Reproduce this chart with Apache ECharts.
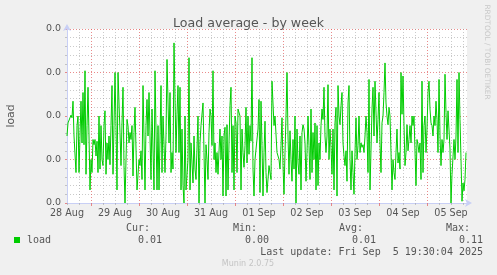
<!DOCTYPE html>
<html>
<head>
<meta charset="utf-8">
<script src="https://cdn.jsdelivr.net/npm/echarts@6/dist/echarts.min.js"></script>
<style>
html,body{margin:0;padding:0;background:#F0F0F0;}
#chart{width:497px;height:275px;}
</style>
</head>
<body>
<div id="chart"></div>
<script>
// ---- data (hours since 28 Aug 12:00, load) ----
const chartTitle = 'Load average - by week';
const yAxisName = 'load';
const dayLabels = ['28 Aug','29 Aug','30 Aug','31 Aug','01 Sep','02 Sep','03 Sep','04 Sep','05 Sep'];
const hoursSpan = 200;
const yMax = 0.02;
const yStep = 0.005;
const legendHeaders = ['Cur:','Min:','Avg:','Max:'];
const legendValues = ['0.01','0.00','0.01','0.11'];
const lastUpdate = 'Last update: Fri Sep  5 19:30:04 2025';
const footer = 'Munin 2.0.75';
const sideText = 'RRDTOOL / TOBI OETIKER';

const loadByHour = [
[0,.0077],[.5,.0092],[1,.009],[2,.0101],[2.5,.0098],[3,.0117],[3.5,.0077],[4.5,.0035],[5,.0089],[5.5,.01],[6,.0035],[6.5,.0077],[7,.0117],[7.5,.0069],[8,.0127],[8.5,.0067],[9,.0152],[9.5,.0033],[10,.0089],[10.5,.0133],[11,.0077],[11.5,.0015],[12,.005],[12.5,.0035],[13,.0073],[13.5,.0067],[14,.0073],[14.5,.0054],[15,.0071],[15.5,.0035],[16,.01],[16.5,.0039],[17,.0089],[17.5,.005],[18,.0043],[18.5,.0089],[19,.0106],[19.5,.0033],[20,.0069],[20.5,.005],[21,.0077],[21.5,.0044],[22,.0089],[22.5,.0135],[23,.0033],[23.5,.0089],[24,.015],[24.5,.0089],[25,.0015],[25.5,.015],[26,.0152],[26.5,.0081],[27,.0043],[27.5,.0092],[28,.0133],[28.5,.0043],[29,0],[29.5,.005],[30,.0096],[30.5,.0089],[31,.0069],[31.5,.0081],[32,.0073],[32.5,.0089],[33,.0031],[33.5,.0081],[34,.011],
[35,.0015],[36,.005],[36.5,.0043],[37,.006],[37.5,.0027],[38,.0135],[39,.0015],[39.5,.0089],[40,.0119],[40.5,.0077],[41,.0127],[42,.0027],[42.5,.0108],[43.5,.0015],[44,.0152],[45,.0015],[45.5,.0089],[46,.0015],[47,.0135],[47.5,.0035],[48,.01],[49,.0035],[49.5,.0077],[50,.0165],[51,.0069],[51.5,.0127],[52,.0035],[52.5,.0058],[53,.0039],[53.5,.0184],[54.5,.0058],[55,.0102],[55.5,.0135],[56,.0058],[56.5,.0133],[57,.0015],[57.5,.0085],[58,.002],[58.5,0],[59,.01],[59.5,.0015],[60.5,.005],[61,.0167],[61.5,.0015],[62,.0069],[63,.0023],[63.5,.0077],[64,.0039],[64.5,.0027],[65.5,.01],[66,0],[66.5,.0069],[67,.0089],[68,.0115],[68.5,.0058],[69,0],
[69.5,.0067],[70,.005],[70.5,.0027],[71,.0081],[71.5,.0108],[72,.01],[72.5,.0066],[73,.0152],[73.5,.005],[74,.0069],[74.5,.0035],[75,.0058],[75.5,.0033],[76.5,.0085],[77,.005],[77.5,.0077],[78,.0008],[78.5,.0077],[79,.0087],[79.5,.0008],[80,.009],[80.5,.0015],[81,.0069],[81.5,.0112],[82,.0133],[82.5,.0035],[83,.0089],[83.5,.0015],[84,.01],[84.5,.0092],[85,.0035],[85.5,.0108],[86,.011],[86.5,.01],[87,.0015],[87.5,.0085],[88,.0058],[88.5,.0041],[89,.0066],[89.5,.011],[90,.0046],[90.5,.01],[91,.0056],[91.5,.0089],[92,.0071],[92.5,.0167],[93,.0039],[93.5,.0008],[94,.005],[94.5,.0048],[95,.005],[95.5,.0085],[96,.0119],[96.5,.0012],[97,.0117],[97.5,.0066],[98,.0008],[98.5,.0058],[99,.0094],[99.5,.0035],[100,.0012],[101,.0043],[102,.0027],[102.5,.014],[103.5,.0089],[104,.01],
[105,.0058],[105.5,.0056],[106,.005],[106.5,.0039],[107,.0066],[107.5,.0098],[108,.0043],[108.5,.001],[109,.0058],[109.5,.01],[110,.015],[110.5,.0077],[111,.0033],[111.5,.0083],[112,.005],[112.5,.0025],[113,.0073],[113.5,.0039],[114,.01],[114.5,0],[115,.0085],[115.5,.0046],[116,.0033],[116.5,.0077],[117,.0015],[117.5,.0081],[118,.009],[118.5,.0085],[119,.0069],[119.5,.0025],[120,.0058],[120.5,.01],[121,.0066],[121.5,.0027],[122,.0108],[122.5,.0035],[123,.0081],[123.5,.005],[124,.0092],[124.5,.0015],[125,.0089],[125.5,.002],[126,.0069],[126.5,.005],[127,.0089],[127.5,.0108],[128,.0096],[128.5,.0133],[129,.0077],[129.5,.0058],[130,.0077],[130.5,.0136],[131,.005],[131.5,.0085],[132,.0064],[132.5,.0033],[133,.0085],[133.5,.0015],[134,.0092],[134.5,.011],[135,.0008],[135.5,.0135],[136,.01],[136.5,.009],[137,.0112],[137.5,.0127],[138,.0069],[138.5,.0054],[139,.0043],
[139.5,.006],[140,.0025],[140.5,.0115],[141,.0135],[141.5,.005],[142,.0015],[142.5,.006],[143,.0035],[143.5,.001],[144,.0058],[144.5,.0098],[145,.005],[145.5,.0066],[146,.01],[146.5,.0058],[147,.0069],[147.5,.0064],[148,.0067],[148.5,.0058],[149,.0077],[149.5,.01],[150,.0081],[150.5,.0035],[151,.0142],[151.5,.0015],[152,.0015],[152.5,.0108],[153,.0133],[153.5,.0077],[154,.014],[154.5,.0142],[155,.0069],[155.5,.0096],[156,.0127],[156.5,.0069],[157,.0035],[157.5,.0092],[158,.01],[158.5,.0127],[159,.0161],[159.5,.0115],[160,.01],[160.5,.009],[161,.011],[161.5,.01],[162,.0058],[162.5,.0015],[163,.005],[163.5,.0035],[164,.0027],[164.5,.0058],[165,.0085],[165.5,.0046],[166,.0058],[166.5,.0039],[167,.015],[167.5,.0102],[168,.0146],[168.5,.0089],[169,.0043],[169.5,.0058],[170,.009],[170.5,.006],[171,.0073],[171.5,.0089],[172,.0069],[172.5,.01],[173,.0089],[173.5,.01],
[174,.0102],[174.5,.002],[175,.0073],[175.5,.0067],[176,.0058],[176.5,.0069],[177,.0027],[177.5,.014],[178,.0035],[178.5,.0089],[179,.01],[179.5,.0058],[180,.0085],[180.5,.0127],[181,.014],[181.5,.0108],[182,.0092],[182.5,.0089],[183,.0077],[183.5,.01],[184,.0089],[184.5,.0117],[185,.0096],[185.5,.0058],[186,.0142],[186.5,.0077],[187,.0043],[187.5,.0073],[188,.0058],[188.5,.0073],[189,.0148],[189.5,.0104],[190,.0073],[190.5,.0106],[191,.0108],[191.5,.0062],[192,0],[192.5,.0033],[193,.0033],[193.5,.0073],[194,.005],[194.5,.0077],[195,.0142],[195.5,.0058],[196,.015],[196.5,.0096],[197,.005],[197.5,.0002],[198,.0023],[198.5,.0014],[199,.0027],[199.5,.0058]
];

// ---- chart ----
const hourCats = Array.from({length: hoursSpan + 1}, (_, i) => String(i));
const TXT = '#555555';
const AXIS = '#C8CFF5';
const MAJOR = 'rgba(225,90,90,0.7)';
const MINOR = 'rgba(150,150,150,0.5)';
const FONT = 'DejaVu Sans';
const MONO = 'DejaVu Sans Mono';

const chart = echarts.init(document.getElementById('chart'), null, {renderer: 'canvas'});

function t(x, y, text, opts) {
  const o = opts || {};
  return {
    type: 'text', x: x, y: y, rotation: o.rotation || 0, silent: true,
    style: {
      text: text, fill: o.color || TXT,
      font: (o.size || 10) + 'px "' + (o.family || MONO) + '"',
      align: o.align || 'left', textAlign: o.align || 'left',
      verticalAlign: 'middle', textVerticalAlign: 'middle'
    }
  };
}

const headerRight = [150, 257, 363, 470];
const valueRight = [162, 269, 376, 483];
const graphics = [
  t(487, 52, sideText, {family: FONT, size: 7.4, color: '#c8c8c8', align: 'center', rotation: -Math.PI / 2}),
  {type: 'rect', silent: true, shape: {x: 14, y: 237, width: 6, height: 6}, style: {fill: '#00CC00'}},
  t(27, 240, yAxisName),
  t(483, 252, lastUpdate, {align: 'right'}),
  t(248, 264, footer, {family: FONT, size: 8, color: '#c4c4c4', align: 'center'})
];
legendHeaders.forEach((h, i) => graphics.push(t(headerRight[i], 228, h, {align: 'right'})));
legendValues.forEach((v, i) => graphics.push(t(valueRight[i], 240, v, {align: 'right'})));

const option = {
  animation: false,
  backgroundColor: '#F0F0F0',
  title: {
    text: chartTitle, left: 'center', top: 12,
    textStyle: {fontFamily: FONT, fontSize: 12.6, fontWeight: 'normal', color: TXT}
  },
  grid: {
    left: 67, right: 30, top: 29, bottom: 72,
    show: true, backgroundColor: '#ffffff', borderWidth: 0,
    containLabel: false, outerBoundsMode: 'none'
  },
  xAxis: [
    {type: 'value', min: 0, max: hoursSpan, show: false},
    {
      type: 'category', data: hourCats, boundaryGap: false, position: 'bottom',
      axisLine: {show: true, lineStyle: {color: AXIS, width: 1}, symbol: ['none', 'arrow'], symbolSize: [6, 7], symbolOffset: [0, 5]},
      axisTick: {show: true, length: 3, interval: (i) => i % 24 === 12, lineStyle: {color: MAJOR}},
      axisLabel: {
        show: true, interval: (i) => i % 24 === 0, margin: 5,
        formatter: (v, i) => dayLabels[Math.round(Number(v) / 24)] || '',
        fontFamily: FONT, fontSize: 9.6, color: TXT
      },
      splitLine: {show: true, interval: (i) => i % 24 === 12, lineStyle: {color: MAJOR, type: [1, 2], width: 1}}
    },
    {
      type: 'category', data: hourCats, boundaryGap: false, position: 'bottom',
      axisLine: {show: false},
      axisTick: {show: true, length: 2, interval: (i) => i % 6 === 0 && i % 24 !== 12, lineStyle: {color: MINOR}},
      axisLabel: {show: false},
      splitLine: {show: true, interval: (i) => i % 6 === 0 && i % 24 !== 12 && i !== 0, lineStyle: {color: MINOR, type: [1, 2], width: 1}}
    }
  ],
  yAxis: {
    type: 'value', min: 0, max: yMax, interval: yStep,
    name: yAxisName, nameLocation: 'middle', nameGap: 50, nameRotate: 90,
    nameTextStyle: {fontFamily: FONT, fontSize: 10.8, color: TXT},
    axisLine: {show: true, lineStyle: {color: AXIS, width: 1}, symbol: ['none', 'arrow'], symbolSize: [6, 7], symbolOffset: [0, 5]},
    axisTick: {show: true, length: 2, lineStyle: {color: MAJOR}},
    minorTick: {show: true, splitNumber: 5, length: 2, lineStyle: {color: MINOR}},
    axisLabel: {show: true, margin: 6, formatter: (v) => v.toFixed(1), fontFamily: FONT, fontSize: 9.5, color: TXT},
    splitLine: {show: true, lineStyle: {color: MAJOR, type: [1, 2], width: 1}},
    minorSplitLine: {show: true, lineStyle: {color: MINOR, type: [1, 2], width: 1}}
  },
  series: [{
    name: yAxisName, type: 'line', xAxisIndex: 0, yAxisIndex: 0,
    data: loadByHour, showSymbol: false, symbol: 'none', silent: true,
    lineStyle: {color: '#00CC00', width: 1}, z: 5
  }],
  graphic: graphics
};
chart.setOption(option);
</script>
</body>
</html>
